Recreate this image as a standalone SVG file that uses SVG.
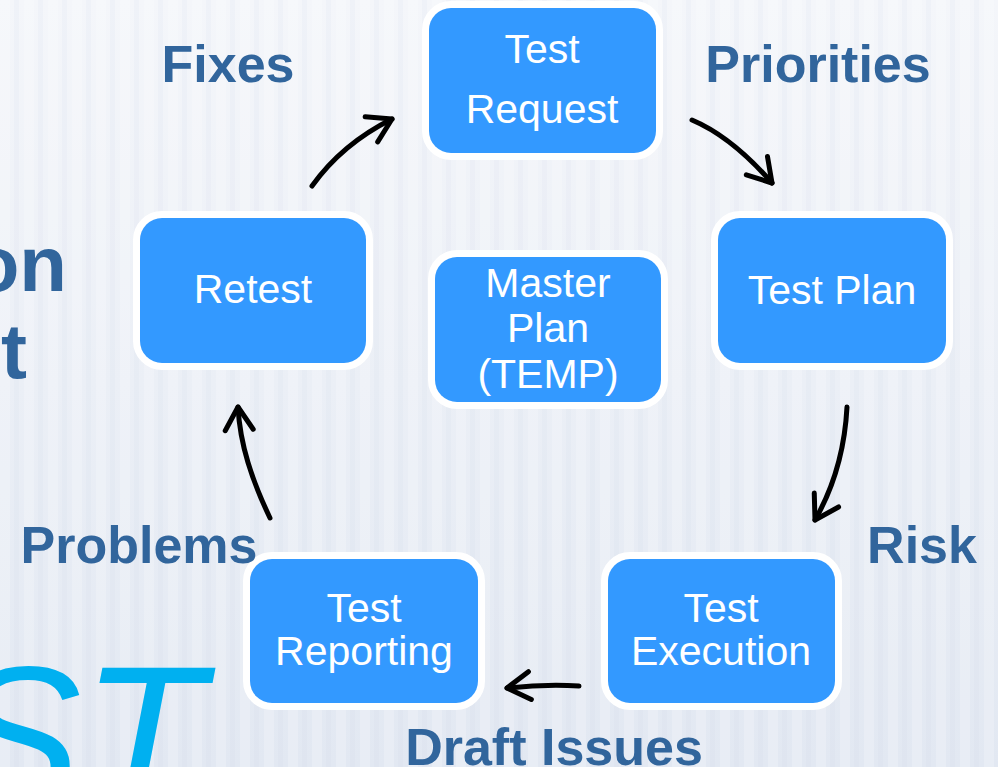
<svg xmlns="http://www.w3.org/2000/svg" width="998" height="767" viewBox="0 0 998 767">
<defs>
<linearGradient id="bg" x1="0" y1="0" x2="0" y2="1">
<stop offset="0" stop-color="#F4F6FA"/>
<stop offset="1" stop-color="#E2E8F2"/>
</linearGradient>
<pattern id="stripes" width="24" height="767" patternUnits="userSpaceOnUse">
<rect x="0" y="0" width="10" height="767" fill="#FFFFFF" opacity="0.2"/>
<rect x="14" y="0" width="5" height="767" fill="#C9D3E3" opacity="0.1"/>
</pattern>
<marker id="head" markerUnits="userSpaceOnUse" markerWidth="40" markerHeight="40" refX="0" refY="0" viewBox="-30 -20 40 40" orient="auto" overflow="visible">
<path d="M-23,-14 L0,0 L-23,14" fill="none" stroke="#000" stroke-width="5" stroke-linecap="round" stroke-linejoin="round"/>
</marker>
</defs>
<style>
.box{fill:#3399FF;stroke:#FFFFFF;stroke-width:14;paint-order:stroke}
.nt{font-family:"Liberation Sans",Arial,sans-serif;font-size:41px;fill:#FFFFFF;text-anchor:middle}
.lbl{font-family:"Liberation Sans",Arial,sans-serif;font-size:52px;font-weight:bold;fill:#31659C;text-anchor:middle}
.big{font-family:"Liberation Sans",Arial,sans-serif;font-size:78px;font-weight:bold;fill:#31659C;text-anchor:end}
.st{font-family:"Liberation Sans",Arial,sans-serif;font-size:200px;font-style:italic;fill:#00B0F0}
.arr{fill:none;stroke:#000;stroke-width:5;stroke-linecap:round;marker-end:url(#head)}
</style>
<rect x="0" y="0" width="998" height="767" fill="url(#bg)"/>
<rect x="0" y="0" width="998" height="767" fill="url(#stripes)"/>

<g id="background-text">
<text class="big" x="67" y="291">on</text>
<text class="big" x="27" y="378">t</text>
<text class="st" x="-52" y="806">ST</text>
</g>

<g id="connectors">
<path class="arr" d="M312,186 Q342,144 392,119"/>
<path class="arr" d="M692,120 C725,134 752,160 772,183"/>
<path class="arr" d="M847,407 C845,445 835,485 815,520"/>
<path class="arr" d="M579,686 Q545,684 507,688"/>
<path class="arr" d="M270,518 C252,480 240,445 238,407"/>
</g>

<g id="test-request">
<rect class="box" x="429" y="8" width="227" height="145" rx="22"/>
<text class="nt" x="542" y="63">Test</text>
<text class="nt" x="542" y="123">Request</text>
</g>
<g id="test-plan">
<rect class="box" x="718" y="218" width="228" height="145" rx="22"/>
<text class="nt" x="832" y="304">Test Plan</text>
</g>
<g id="test-execution">
<rect class="box" x="608" y="559" width="227" height="144" rx="22"/>
<text class="nt" x="721" y="622">Test</text>
<text class="nt" x="721" y="665">Execution</text>
</g>
<g id="test-reporting">
<rect class="box" x="250" y="559" width="228" height="144" rx="22"/>
<text class="nt" x="364" y="622">Test</text>
<text class="nt" x="364" y="665">Reporting</text>
</g>
<g id="retest">
<rect class="box" x="140" y="218" width="226" height="145" rx="22"/>
<text class="nt" x="253" y="303">Retest</text>
</g>
<g id="master-plan">
<rect class="box" x="435" y="257" width="226" height="145" rx="22"/>
<text class="nt" x="548" y="297">Master</text>
<text class="nt" x="548" y="342">Plan</text>
<text class="nt" x="548" y="388">(TEMP)</text>
</g>

<g id="labels">
<text class="lbl" x="228" y="82">Fixes</text>
<text class="lbl" x="818" y="82">Priorities</text>
<text class="lbl" x="139" y="563">Problems</text>
<text class="lbl" x="922" y="563">Risk</text>
<text class="lbl" x="554" y="765">Draft Issues</text>
</g>
</svg>
